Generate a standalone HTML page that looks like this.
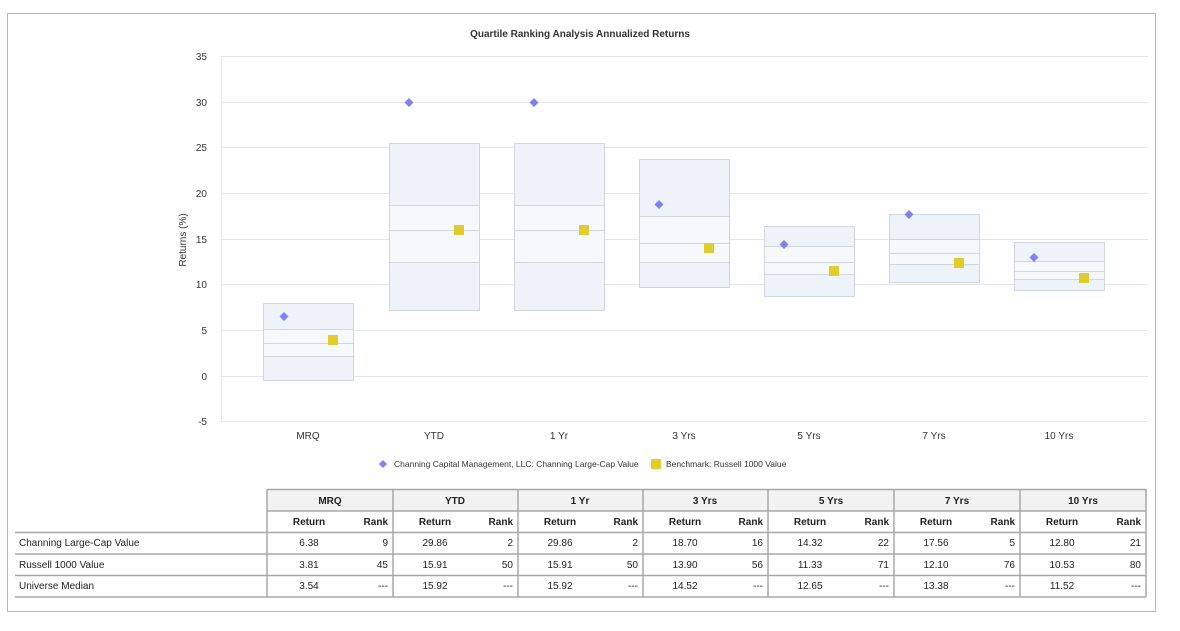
<!DOCTYPE html><html><head><style>
body{margin:0;background:#fff;font-family:"Liberation Sans",sans-serif}
</style></head><body>
<svg width="1180" height="626" xmlns="http://www.w3.org/2000/svg" font-family="Liberation Sans, sans-serif">
<rect x="7.5" y="13.5" width="1148" height="598" fill="#fff" stroke="#b5b5b5"/>
<text x="580" y="37" font-size="10" font-weight="bold" text-anchor="middle" fill="#333">Quartile Ranking Analysis Annualized Returns</text>
<g stroke="#e2e6ea" stroke-width="1">
<line x1="221" y1="56.5" x2="1148" y2="56.5"/><line x1="221" y1="102.5" x2="1148" y2="102.5"/><line x1="221" y1="147.5" x2="1148" y2="147.5"/><line x1="221" y1="193.5" x2="1148" y2="193.5"/><line x1="221" y1="239.5" x2="1148" y2="239.5"/><line x1="221" y1="284.5" x2="1148" y2="284.5"/><line x1="221" y1="330.5" x2="1148" y2="330.5"/><line x1="221" y1="376.5" x2="1148" y2="376.5"/><line x1="221" y1="421.5" x2="1148" y2="421.5"/>
<line x1="221.5" y1="56" x2="221.5" y2="421"/>
</g>
<g font-size="10" fill="#333" text-anchor="end">
<text x="207" y="60">35</text><text x="207" y="106">30</text><text x="207" y="151">25</text><text x="207" y="197">20</text><text x="207" y="243">15</text><text x="207" y="288">10</text><text x="207" y="334">5</text><text x="207" y="380">0</text><text x="207" y="425">-5</text>
</g>
<text transform="translate(186,240) rotate(-90)" font-size="10" text-anchor="middle" fill="#333">Returns (%)</text>
<g fill="#eef3f9" stroke="#cfd6de" stroke-width="1">
<rect x="263.5" y="303.5" width="90" height="77"/>
<rect x="389.5" y="143.5" width="90" height="167"/>
<rect x="514.5" y="143.5" width="90" height="167"/>
<rect x="639.5" y="159.5" width="90" height="128"/>
<rect x="764.5" y="226.5" width="90" height="70"/>
<rect x="889.5" y="214.5" width="90" height="68"/>
<rect x="1014.5" y="242.5" width="90" height="48"/>
</g>
<g fill="#f6f9fc" stroke="#cfd6de">
<rect x="263.5" y="329.5" width="90" height="27"/>
<rect x="389.5" y="205.5" width="90" height="57"/>
<rect x="514.5" y="205.5" width="90" height="57"/>
<rect x="639.5" y="216.5" width="90" height="46"/>
<rect x="764.5" y="246.5" width="90" height="28"/>
<rect x="889.5" y="239.5" width="90" height="25"/>
<rect x="1014.5" y="261.5" width="90" height="18"/>
</g>
<g stroke="#cfd6de">
<line x1="263" y1="343.5" x2="353" y2="343.5"/><line x1="389" y1="230.5" x2="479" y2="230.5"/><line x1="514" y1="230.5" x2="604" y2="230.5"/><line x1="639" y1="243.5" x2="729" y2="243.5"/><line x1="764" y1="262.5" x2="854" y2="262.5"/><line x1="889" y1="253.5" x2="979" y2="253.5"/><line x1="1014" y1="271.5" x2="1104" y2="271.5"/>
</g>
<g fill="#8080f0">
<path d="M284 312l4.5 4.5-4.5 4.5-4.5-4.5z"/>
<path d="M409 98l4.5 4.5-4.5 4.5-4.5-4.5z"/>
<path d="M534 98l4.5 4.5-4.5 4.5-4.5-4.5z"/>
<path d="M659 200l4.5 4.5-4.5 4.5-4.5-4.5z"/>
<path d="M784 240l4.5 4.5-4.5 4.5-4.5-4.5z"/>
<path d="M909 210l4.5 4.5-4.5 4.5-4.5-4.5z"/>
<path d="M1034 253l4.5 4.5-4.5 4.5-4.5-4.5z"/>
</g>
<g fill="#e0cc2a">
<rect x="328" y="335" width="10" height="10"/><rect x="454" y="225" width="10" height="10"/><rect x="579" y="225" width="10" height="10"/><rect x="704" y="243" width="10" height="10"/><rect x="829" y="266" width="10" height="10"/><rect x="954" y="258" width="10" height="10"/><rect x="1079" y="273" width="10" height="10"/>
</g>
<g font-size="10" fill="#333" text-anchor="middle">
<text x="308" y="439">MRQ</text><text x="434" y="439">YTD</text><text x="559" y="439">1 Yr</text><text x="684" y="439">3 Yrs</text><text x="809" y="439">5 Yrs</text><text x="934" y="439">7 Yrs</text><text x="1059" y="439">10 Yrs</text>
</g>
<path d="M383 460l4 4-4 4-4-4z" fill="#8080f0"/>
<text x="394" y="467" font-size="8.5" fill="#333">Channing Capital Management, LLC: Channing Large-Cap Value</text>
<rect x="651" y="459" width="10" height="10" fill="#e0cc2a"/>
<text x="666" y="467" font-size="8.5" fill="#333">Benchmark: Russell 1000 Value</text>
<!-- table -->
<rect x="267" y="489" width="879" height="22" fill="#f2f2f2"/>
<g stroke="#a8a8a8" stroke-width="1.5">
<line x1="267" y1="489.5" x2="1146" y2="489.5"/>
<line x1="267" y1="511" x2="1146" y2="511"/>
<line x1="15" y1="532.5" x2="1146" y2="532.5"/>
<line x1="15" y1="554" x2="1146" y2="554"/>
<line x1="15" y1="575.5" x2="1146" y2="575.5"/>
<line x1="15" y1="597" x2="1146" y2="597"/>
<line x1="267" y1="489" x2="267" y2="597"/><line x1="393" y1="489" x2="393" y2="597"/><line x1="518" y1="489" x2="518" y2="597"/><line x1="643" y1="489" x2="643" y2="597"/><line x1="768" y1="489" x2="768" y2="597"/><line x1="894" y1="489" x2="894" y2="597"/><line x1="1020" y1="489" x2="1020" y2="597"/><line x1="1146" y1="489" x2="1146" y2="597"/>
</g>
<g font-size="10" font-weight="bold" fill="#222" text-anchor="middle">
<text x="330" y="504">MRQ</text><text x="455" y="504">YTD</text><text x="580" y="504">1 Yr</text><text x="705" y="504">3 Yrs</text><text x="831" y="504">5 Yrs</text><text x="957" y="504">7 Yrs</text><text x="1083" y="504">10 Yrs</text>
</g>
<g font-size="10" font-weight="bold" fill="#222">
<g text-anchor="middle"><text x="309" y="525">Return</text><text x="435" y="525">Return</text><text x="560" y="525">Return</text><text x="685" y="525">Return</text><text x="810" y="525">Return</text><text x="936" y="525">Return</text><text x="1062" y="525">Return</text></g>
<g text-anchor="end"><text x="388" y="525">Rank</text><text x="513" y="525">Rank</text><text x="638" y="525">Rank</text><text x="763" y="525">Rank</text><text x="889" y="525">Rank</text><text x="1015" y="525">Rank</text><text x="1141" y="525">Rank</text></g>
</g>
<g font-size="10" fill="#222">
<text x="19" y="546">Channing Large-Cap Value</text><text x="19" y="568">Russell 1000 Value</text><text x="19" y="589">Universe Median</text>
<g text-anchor="middle">
<text x="309" y="546">6.38</text><text x="435" y="546">29.86</text><text x="560" y="546">29.86</text><text x="685" y="546">18.70</text><text x="810" y="546">14.32</text><text x="936" y="546">17.56</text><text x="1062" y="546">12.80</text>
<text x="309" y="568">3.81</text><text x="435" y="568">15.91</text><text x="560" y="568">15.91</text><text x="685" y="568">13.90</text><text x="810" y="568">11.33</text><text x="936" y="568">12.10</text><text x="1062" y="568">10.53</text>
<text x="309" y="589">3.54</text><text x="435" y="589">15.92</text><text x="560" y="589">15.92</text><text x="685" y="589">14.52</text><text x="810" y="589">12.65</text><text x="936" y="589">13.38</text><text x="1062" y="589">11.52</text>
</g>
<g text-anchor="end">
<text x="388" y="546">9</text><text x="513" y="546">2</text><text x="638" y="546">2</text><text x="763" y="546">16</text><text x="889" y="546">22</text><text x="1015" y="546">5</text><text x="1141" y="546">21</text>
<text x="388" y="568">45</text><text x="513" y="568">50</text><text x="638" y="568">50</text><text x="763" y="568">56</text><text x="889" y="568">71</text><text x="1015" y="568">76</text><text x="1141" y="568">80</text>
<text x="388" y="589">---</text><text x="513" y="589">---</text><text x="638" y="589">---</text><text x="763" y="589">---</text><text x="889" y="589">---</text><text x="1015" y="589">---</text><text x="1141" y="589">---</text>
</g>
</g>
</svg>
</body></html>
